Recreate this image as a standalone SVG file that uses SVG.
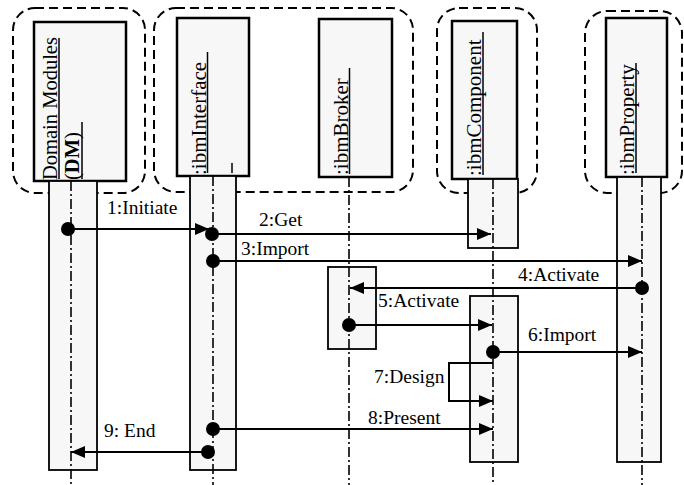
<svg xmlns="http://www.w3.org/2000/svg" width="684" height="485" viewBox="0 0 684 485">
<style>
.cont{fill:none;stroke:#000;stroke-width:2;stroke-dasharray:9 5}
.head{fill:#f7f7f7;stroke:#000;stroke-width:2.5}
.bar{fill:#f7f7f7;stroke:#000;stroke-width:1.8}
.life{stroke:#000;stroke-width:1.6;stroke-dasharray:10 3 2 3;fill:none}
.ul{stroke:#000;stroke-width:1.5}
.ht{font-family:"Liberation Serif","Times New Roman",serif;font-size:21px;fill:#000}
.mt{font-family:"Liberation Serif","Times New Roman",serif;font-size:19.5px;fill:#000}
.msg{stroke:#000;stroke-width:2;fill:none}
.dot{fill:#000}
</style>
<defs>
<marker id="arr" markerUnits="userSpaceOnUse" markerWidth="14" markerHeight="12" refX="14" refY="6" orient="auto">
<path d="M0,0 L14,6 L0,12 z" fill="#000"/>
</marker>
</defs>
<g id="containers">
<rect class="cont" x="13" y="8" width="132" height="185" rx="22"/>
<rect class="cont" x="154" y="8" width="259" height="184" rx="22"/>
<rect class="cont" x="437" y="8" width="100" height="185" rx="22"/>
<rect class="cont" x="585" y="11" width="97" height="182" rx="22"/>
</g>
<g id="node-dm">
<rect class="head" x="34" y="22" width="92" height="159"/>
<rect class="bar" x="49" y="181" width="48" height="289"/>
<text class="ht" transform="translate(57,180) rotate(-90)" style="font-size:20.5px">Domain Modules</text>
<text class="ht" transform="translate(79,180) rotate(-90)" style="font-size:20.5px">(<tspan font-weight="bold">DM</tspan>)</text>
<line class="ul" x1="59" y1="38" x2="59" y2="179"/>
<line class="ul" x1="82" y1="122" x2="82" y2="179"/>
<line class="life" x1="71" y1="181" x2="71" y2="485"/>
</g>
<g id="node-interface">
<rect class="head" x="177" y="18" width="72" height="158"/>
<rect class="bar" x="190" y="176" width="46" height="294"/>
<text class="ht" transform="translate(206,175) rotate(-90)">:ibmInterface</text>
<line class="ul" x1="207.5" y1="52" x2="207.5" y2="173"/>
<line class="ul" x1="232" y1="163" x2="232" y2="173"/>
<line class="life" x1="213" y1="176" x2="213" y2="485"/>
</g>
<g id="node-broker">
<rect class="head" x="319" y="19" width="73" height="158"/>
<rect class="bar" x="328" y="267" width="48" height="82"/>
<text class="ht" transform="translate(348,175) rotate(-90)">:ibmBroker</text>
<line class="ul" x1="349.5" y1="68" x2="349.5" y2="174"/>
<line class="life" x1="349" y1="177" x2="349" y2="485"/>
</g>
<g id="node-component">
<rect class="head" x="452" y="21" width="65" height="158"/>
<rect class="bar" x="468" y="179" width="50" height="69"/>
<rect class="bar" x="470" y="296" width="48" height="166"/>
<text class="ht" transform="translate(481,176) rotate(-90)">:ibmComponent</text>
<line class="ul" x1="483" y1="32" x2="483" y2="175"/>
<line class="life" x1="493" y1="179" x2="493" y2="485"/>
</g>
<g id="node-property">
<rect class="head" x="606" y="18" width="61" height="159"/>
<rect class="bar" x="617" y="177" width="44" height="285"/>
<text class="ht" transform="translate(634,175) rotate(-90)">:ibmProperty</text>
<line class="ul" x1="636" y1="63" x2="636" y2="173"/>
<line class="life" x1="642" y1="177" x2="642" y2="485"/>
</g>
<g id="connectors">
<line class="msg" x1="68" y1="229" x2="209" y2="229" marker-end="url(#arr)"/>
<circle class="dot" cx="68" cy="229" r="7"/>
<line class="msg" x1="212" y1="234" x2="491" y2="234" marker-end="url(#arr)"/>
<circle class="dot" cx="212" cy="234" r="7"/>
<line class="msg" x1="213" y1="261" x2="642" y2="261" marker-end="url(#arr)"/>
<circle class="dot" cx="213" cy="261" r="7"/>
<line class="msg" x1="642" y1="288" x2="350" y2="288" marker-end="url(#arr)"/>
<circle class="dot" cx="642" cy="288" r="7"/>
<line class="msg" x1="349" y1="325" x2="492" y2="325" marker-end="url(#arr)"/>
<circle class="dot" cx="349" cy="325" r="7"/>
<line class="msg" x1="493" y1="352" x2="642" y2="352" marker-end="url(#arr)"/>
<circle class="dot" cx="493" cy="352" r="7"/>
<polyline class="msg" points="493,363 449,363 449,401 493,401" marker-end="url(#arr)"/>
<line class="msg" x1="213" y1="429" x2="493" y2="429" marker-end="url(#arr)"/>
<circle class="dot" cx="213" cy="429" r="7"/>
<line class="msg" x1="208" y1="452" x2="71" y2="452" marker-end="url(#arr)"/>
<circle class="dot" cx="208" cy="452" r="7"/>
<text class="mt" x="107" y="214">1:Initiate</text>
<text class="mt" x="259" y="226">2:Get</text>
<text class="mt" x="241" y="255">3:Import</text>
<text class="mt" x="518" y="281">4:Activate</text>
<text class="mt" x="378" y="307">5:Activate</text>
<text class="mt" x="528" y="341">6:Import</text>
<text class="mt" x="374" y="383">7:Design</text>
<text class="mt" x="368" y="424">8:Present</text>
<text class="mt" x="104" y="437">9: End</text>
</g>
</svg>
